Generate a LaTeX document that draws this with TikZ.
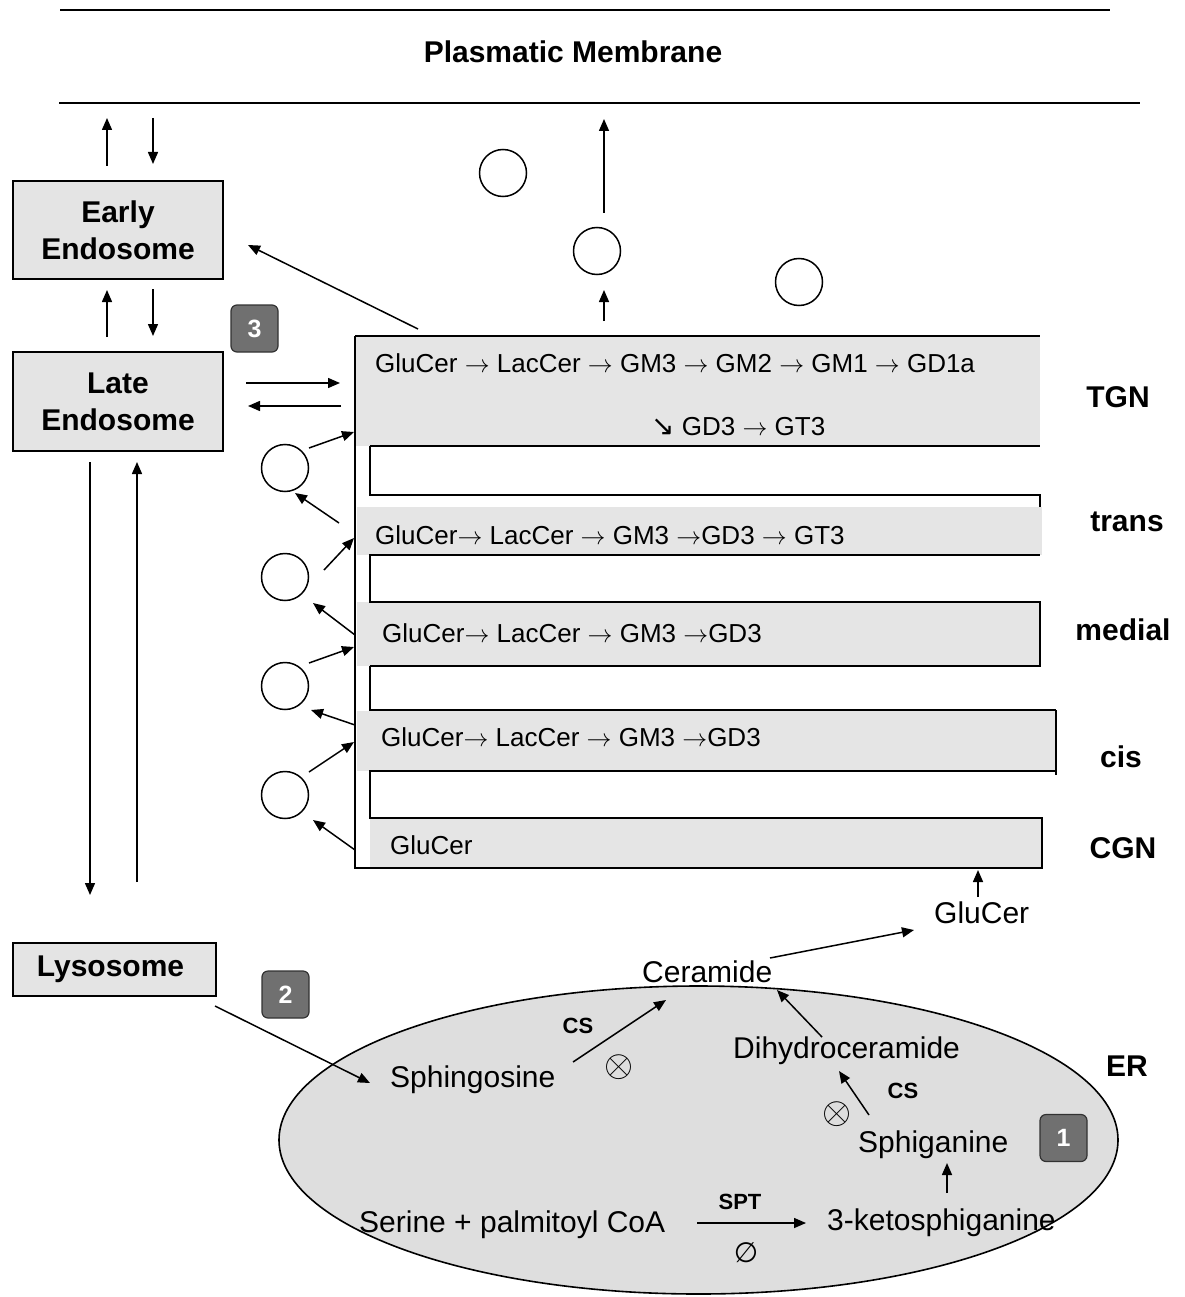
\documentclass[tikz,border=0pt]{standalone}
\usepackage{fontspec}
\setmainfont{Liberation Sans}
\newfontfamily\dejavu{DejaVu Sans}
\usetikzlibrary{arrows.meta}
\definecolor{boxfill}{RGB}{228,228,228}
\definecolor{erfill}{RGB}{222,222,222}
\definecolor{gfill}{RGB}{229,229,229}
\definecolor{badgefill}{RGB}{112,112,112}
\definecolor{badgeline}{RGB}{50,50,50}
\newcommand\myra{\ensuremath{\rightarrow}}
\begin{document}
\begin{tikzpicture}[x=1pt,y=-1pt,
  arr/.style={line width=1.5pt,-{Triangle[length=12pt,width=10pt]}},
  ln/.style={line width=1.6pt},
  box/.style={draw, line width=1.6pt, fill=boxfill, font=\fontsize{30}{37}\selectfont\bfseries, align=center, inner sep=0pt},
  badge/.style={draw=badgeline, line width=1.2pt, fill=badgefill, rounded corners=6pt, minimum width=47pt, minimum height=47pt, inner sep=0pt, text=white, font=\fontsize{25}{27}\selectfont\bfseries},
  ves/.style={circle, draw, line width=1.5pt, minimum size=47pt, inner sep=0pt},
  gt/.style={anchor=base west, inner sep=0pt, font=\fontsize{26}{30}\selectfont},
  et/.style={anchor=base west, inner sep=0pt, font=\fontsize{30}{34}\selectfont},
  lab/.style={inner sep=0pt, font=\fontsize{30}{34}\selectfont\bfseries},
  enz/.style={inner sep=0pt, font=\fontsize{22}{24}\selectfont\bfseries},
  sym/.style={inner sep=0pt, font=\fontsize{20}{22}\selectfont}]
\useasboundingbox (0,0) rectangle (1184,1297);

% plasma membrane
\draw[line width=1.8pt] (60,10) -- (1110,10);
\draw[line width=1.8pt] (59,103) -- (1140,103);
\node[lab] (pm) at (573,52) {Plasmatic Membrane};

% compartments
\node[box, minimum width=210pt, minimum height=98pt] (ee) at (118,230) {Early\\Endosome};
\node[box, minimum width=210pt, minimum height=99pt] (le) at (118,401.5) {Late\\Endosome};
\node[box, minimum width=203pt, minimum height=53pt] (lys) at (114.5,969.5) {Lysosome\hspace*{8pt}};

% badges
\node[badge] (b3) at (254.5,328.5) {3};
\node[badge] (b2) at (285.5,994.5) {2};

% endosome traffic
\coordinate (pmA) at (107,118); \coordinate (eeA) at (107,166);
\draw[arr] (eeA) -- (pmA);
\coordinate (pmB) at (153,118); \coordinate (eeB) at (153,164);
\draw[arr] (pmB) -- (eeB);
\coordinate (leA) at (107,337); \coordinate (eeC) at (107,290);
\draw[arr] (leA) -- (eeC);
\coordinate (eeD) at (153,289); \coordinate (leB) at (153,336);
\draw[arr] (eeD) -- (leB);
\coordinate (leR1) at (246,383); \coordinate (tgA) at (340,383);
\draw[arr] (leR1) -- (tgA);
\coordinate (tgB) at (341,406); \coordinate (leR2) at (248,406);
\draw[arr] (tgB) -- (leR2);
\coordinate (tgC) at (418,329); \coordinate (eeR) at (248,245);
\draw[arr] (tgC) -- (eeR);
\coordinate (leD1) at (90,462); \coordinate (lyA) at (90,895);
\draw[arr] (leD1) -- (lyA);
\coordinate (lyB) at (137,882); \coordinate (leD2) at (137,462);
\draw[arr] (lyB) -- (leD2);

% Golgi stack fills
\fill[gfill] (355,336) rectangle (1040,446);
\fill[gfill] (357,507) rectangle (1042,555);
\fill[gfill] (357,602) rectangle (1040,666);
\fill[gfill] (357,711) rectangle (1056,771);
\fill[gfill] (370,818) rectangle (1042,868);
% Golgi stack outlines
\draw[ln] (355,336) -- (1040,336);
\draw[ln] (355,336) -- (355,868) -- (1042,868) -- (1042,818) -- (370,818) -- (370,771) -- (1056,771);
\draw[ln] (1056,710) -- (1056,775);
\draw[ln] (370,666) -- (370,710) -- (1056,710);
\draw[ln] (370,666) -- (1040,666) -- (1040,602) -- (370,602) -- (370,555) -- (1040,555);
\draw[ln] (370,446) -- (370,495) -- (1040,495) -- (1040,507);
\draw[ln] (370,446) -- (1040,446);

% Golgi texts
\node[gt] (t1) at (375,372) {GluCer \myra{} LacCer \myra{} GM3 \myra{} GM2 \myra{} GM1 \myra{} GD1a};
\node[gt] (t2) at (651,435) {{\dejavu\fontsize{28}{30}\selectfont ↘} GD3 \myra{} GT3};
\node[gt] (t3) at (375,544) {GluCer\myra{} LacCer \myra{} GM3 \myra GD3 \myra{} GT3};
\node[gt] (t4) at (382,642) {GluCer\myra{} LacCer \myra{} GM3 \myra GD3};
\node[gt] (t5) at (381,746) {GluCer\myra{} LacCer \myra{} GM3 \myra GD3};
\node[gt] (t6) at (390,854) {GluCer};

% Golgi labels
\node[lab] (tgn) at (1118,397) {TGN};
\node[lab] (trans) at (1127,522) {trans};
\node[lab] (medial) at (1123,630) {medial};
\node[lab] (cis) at (1121,757) {cis};
\node[lab] (cgn) at (1123,848) {CGN};

% vesicles top
\node[ves] (va) at (503,173) {};
\node[ves] (vb) at (597,251) {};
\node[ves] (vc) at (799,282) {};
\coordinate (vbT) at (604,213); \coordinate (pmC) at (604,119);
\draw[arr] (vbT) -- (pmC);
\coordinate (tgD) at (604,321); \coordinate (vbB) at (604,290);
\draw[arr] (tgD) -- (vbB);

% vesicles left
\node[ves] (v1) at (285,468) {};
\node[ves] (v2) at (285,577) {};
\node[ves] (v3) at (285,686) {};
\node[ves] (v4) at (285,795) {};
\coordinate (v1o) at (309,448); \coordinate (s1i) at (354,432);
\draw[arr] (v1o) -- (s1i);
\coordinate (s2o) at (339,523); \coordinate (v1i) at (295,493);
\draw[arr] (s2o) -- (v1i);
\coordinate (v2o) at (324,570); \coordinate (s2i) at (354,538);
\draw[arr] (v2o) -- (s2i);
\coordinate (s3o) at (355,635); \coordinate (v2i) at (313,603);
\draw[arr] (s3o) -- (v2i);
\coordinate (v3o) at (309,663); \coordinate (s3i) at (354,647);
\draw[arr] (v3o) -- (s3i);
\coordinate (s4o) at (355,725); \coordinate (v3i) at (311,710);
\draw[arr] (s4o) -- (v3i);
\coordinate (v4o) at (309,772); \coordinate (s4i) at (354,742);
\draw[arr] (v4o) -- (s4i);
\coordinate (s5o) at (355,850); \coordinate (v4i) at (313,820);
\draw[arr] (s5o) -- (v4i);

% ER
\draw[ln, fill=erfill] (698.5,1140) ellipse [x radius=419.5, y radius=154];
\node[lab] (er) at (1127,1066) {ER};
\node[badge] (b1) at (1063.5,1138) {1};

\node[et] (cer) at (642,982) {Ceramide};
\node[et] (gcer) at (934,923) {GluCer};
\node[et] (sph) at (390,1087) {Sphingosine};
\node[et] (dhc) at (733,1058) {Dihydroceramide};
\node[et] (spg) at (858,1152) {Sphiganine};
\node[et] (ksp) at (827,1230) {3-ketosphiganine};
\node[et] (ser) at (359,1232) {Serine + palmitoyl CoA};
\node[enz] (cs1) at (578,1026) {CS};
\node[enz] (cs2) at (903,1091) {CS};
\node[enz] (spt) at (740,1202) {SPT};
\node[sym] (x1) at (619,1067) {\scalebox{1.8}{$\otimes$}};
\node[sym] (x2) at (837,1114) {\scalebox{1.8}{$\otimes$}};
\node[sym, font=\dejavu\fontsize{28}{30}\selectfont] (x3) at (746,1253) {∅};

% ER reactions
\coordinate (cerE) at (770,958); \coordinate (gcerW) at (914,930);
\draw[arr] (cerE) -- (gcerW);
\coordinate (gcerN) at (978,897); \coordinate (cgnS) at (978,870);
\draw[arr] (gcerN) -- (cgnS);
\coordinate (lysE) at (215,1006); \coordinate (sphW) at (370,1083);
\draw[arr] (lysE) -- (sphW);
\coordinate (sphE) at (573,1062); \coordinate (cerS1) at (666,1000);
\draw[arr] (sphE) -- (cerS1);
\coordinate (dhcN) at (822,1037); \coordinate (cerS2) at (777,990);
\draw[arr] (dhcN) -- (cerS2);
\coordinate (spgN) at (869,1115); \coordinate (dhcS) at (839,1071);
\draw[arr] (spgN) -- (dhcS);
\coordinate (kspN) at (947,1193); \coordinate (spgS) at (947,1163);
\draw[arr] (kspN) -- (spgS);
\coordinate (serE) at (697,1223); \coordinate (kspW) at (806,1223);
\draw[arr] (serE) -- (kspW);
\end{tikzpicture}
\end{document}
